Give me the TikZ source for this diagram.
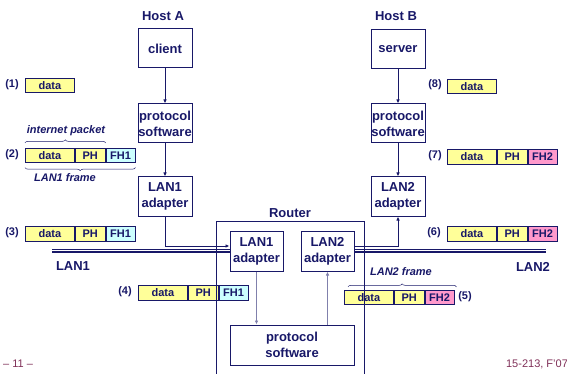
\documentclass[tikz,border=0pt]{standalone}
\usepackage{fontspec}
\setmainfont{Liberation Sans}
\usetikzlibrary{arrows.meta,positioning,decorations.pathreplacing}
\definecolor{navy}{RGB}{24,24,104}
\definecolor{datafill}{RGB}{255,255,153}
\definecolor{fhone}{RGB}{204,255,255}
\definecolor{fhtwo}{RGB}{255,153,204}
\definecolor{slidefoot}{RGB}{128,48,88}

\begin{document}
\begin{tikzpicture}[x=1pt,y=-1pt,->,>={Latex[length=4pt,width=3.5pt]},line width=0.8pt,color=navy]
\useasboundingbox (0,0) rectangle (567,374);
\tikzstyle{main}=[draw=navy, line width=1pt, inner sep=0pt, align=center, minimum width=54, minimum height=39, font=\bfseries\fontsize{13}{16}\selectfont]
\tikzstyle{title}=[font=\bfseries\fontsize{13}{16}\selectfont]
\tikzstyle{cell}=[draw=navy, line width=0.8pt, inner sep=0pt, minimum height=14.5, anchor=west, fill=datafill, font=\bfseries\fontsize{11}{12}\selectfont]
\tikzstyle{tag}=[font=\bfseries\fontsize{11}{12}\selectfont]
\tikzstyle{note}=[font=\bfseries\itshape\fontsize{11}{12}\selectfont]
\tikzstyle{brace}=[-, line width=0.5pt, decorate, decoration={brace, amplitude=3pt}]
\tikzstyle{inner}=[draw=navy!55]
% hosts
\node[title] (ha) at (163,16) {Host A};
\node[main] (client) at (165,48.5) {client};
\node[main] (pa) at (165,123.5) {protocol\\software};
\node[main] (aa) at (165,196.5) {LAN1\\adapter};
\node[title] (hb) at (396,16) {Host B};
\node[main] (server) at (398,49) {server};
\node[main] (pb) at (398,123.5) {protocol\\software};
\node[main] (ab) at (398,196.5) {LAN2\\adapter};
\path (client) edge (pa);
\path (pa) edge (aa);
\path (server) edge (pb);
\path (pb) edge (ab);
% packets
\node[cell, minimum width=49] (d1) at (25,85.5) {data};
\node[cell, minimum width=49] (d8) at (447,86.5) {data};
\foreach \n/\x/\y/\fh/\fc in {2/25/155.5/FH1/fhone, 3/25/234/FH1/fhone, 4/138/293/FH1/fhone, 5/344/297.5/FH2/fhtwo, 6/447/234/FH2/fhtwo, 7/447/157/FH2/fhtwo}
   {
    \node[cell, minimum width=49] (d\n) at (\x,\y) {data};
    \node[cell, minimum width=30, right=0pt of d\n] (p\n) {PH};
    \node[cell, minimum width=29, fill=\fc, right=0pt of p\n] (f\n) {\fh};
   }
\foreach \n/\x/\y in {1/12/85, 2/12/155, 3/12/233, 4/125/291.5, 5/465/297, 6/434/232.5, 7/435/156, 8/435/84.5}
    \node[tag] (t\n) at (\x,\y) {(\n)};
\draw[brace] ([yshift=5pt]d2.north west) -- ([yshift=5pt]p2.north east);
\node[note] (ip) at (66,131) {internet packet};
\draw[brace, decoration={mirror}] ([yshift=-4.5pt]d2.south west) -- ([yshift=-4.5pt]f2.south east);
\node[note] (lf1) at (65,178) {LAN1 frame};
\draw[brace] ([xshift=4pt,yshift=3pt]d5.north west) -- ([xshift=2pt,yshift=3pt]f5.north east);
\node[note] (lf2) at (401,272) {LAN2 frame};
% router
\node[title] (rt) at (290,213) {Router};
\node[main, minimum width=148, minimum height=160] (router) at (290,301) {};
\node[main, minimum width=53, minimum height=40] (ra) at (256.5,251) {LAN1\\adapter};
\node[main, minimum width=53, minimum height=40] (rb) at (327.5,251) {LAN2\\adapter};
\node[main, minimum width=124, minimum height=40] (rp) at (292,345) {protocol\\software};
\draw[inner] (ra.south) -- (ra.south |- rp.north);
\draw[inner] (rp.north -| rb.south) -- (rb.south);
% networks
\coordinate (lanone) at (52,251);
\coordinate (lantwo) at (546,251);
\foreach \dy in {-1.7,0,1.7}
   {
    \draw[-, line width=0.5pt] ([yshift=\dy pt]lanone) -- ([yshift=\dy pt]ra.west);
    \draw[-, line width=0.5pt] ([yshift=\dy pt]rb.east) -- ([yshift=\dy pt]lantwo);
   }
\draw (aa.south) |- ([yshift=5pt]ra.west);
\draw ([yshift=5pt]rb.east) -| (ab.south);
\node[title] (n1) at (73,266.5) {LAN1};
\node[title] (n2) at (533,267) {LAN2};
% footer
\node[font=\fontsize{11}{12}\selectfont, text=slidefoot] (pg) at (18,364) {– 11 –};
\node[font=\fontsize{11}{12}\selectfont, text=slidefoot] (course) at (537,364) {15-213, F'07};
\end{tikzpicture}
\end{document}
